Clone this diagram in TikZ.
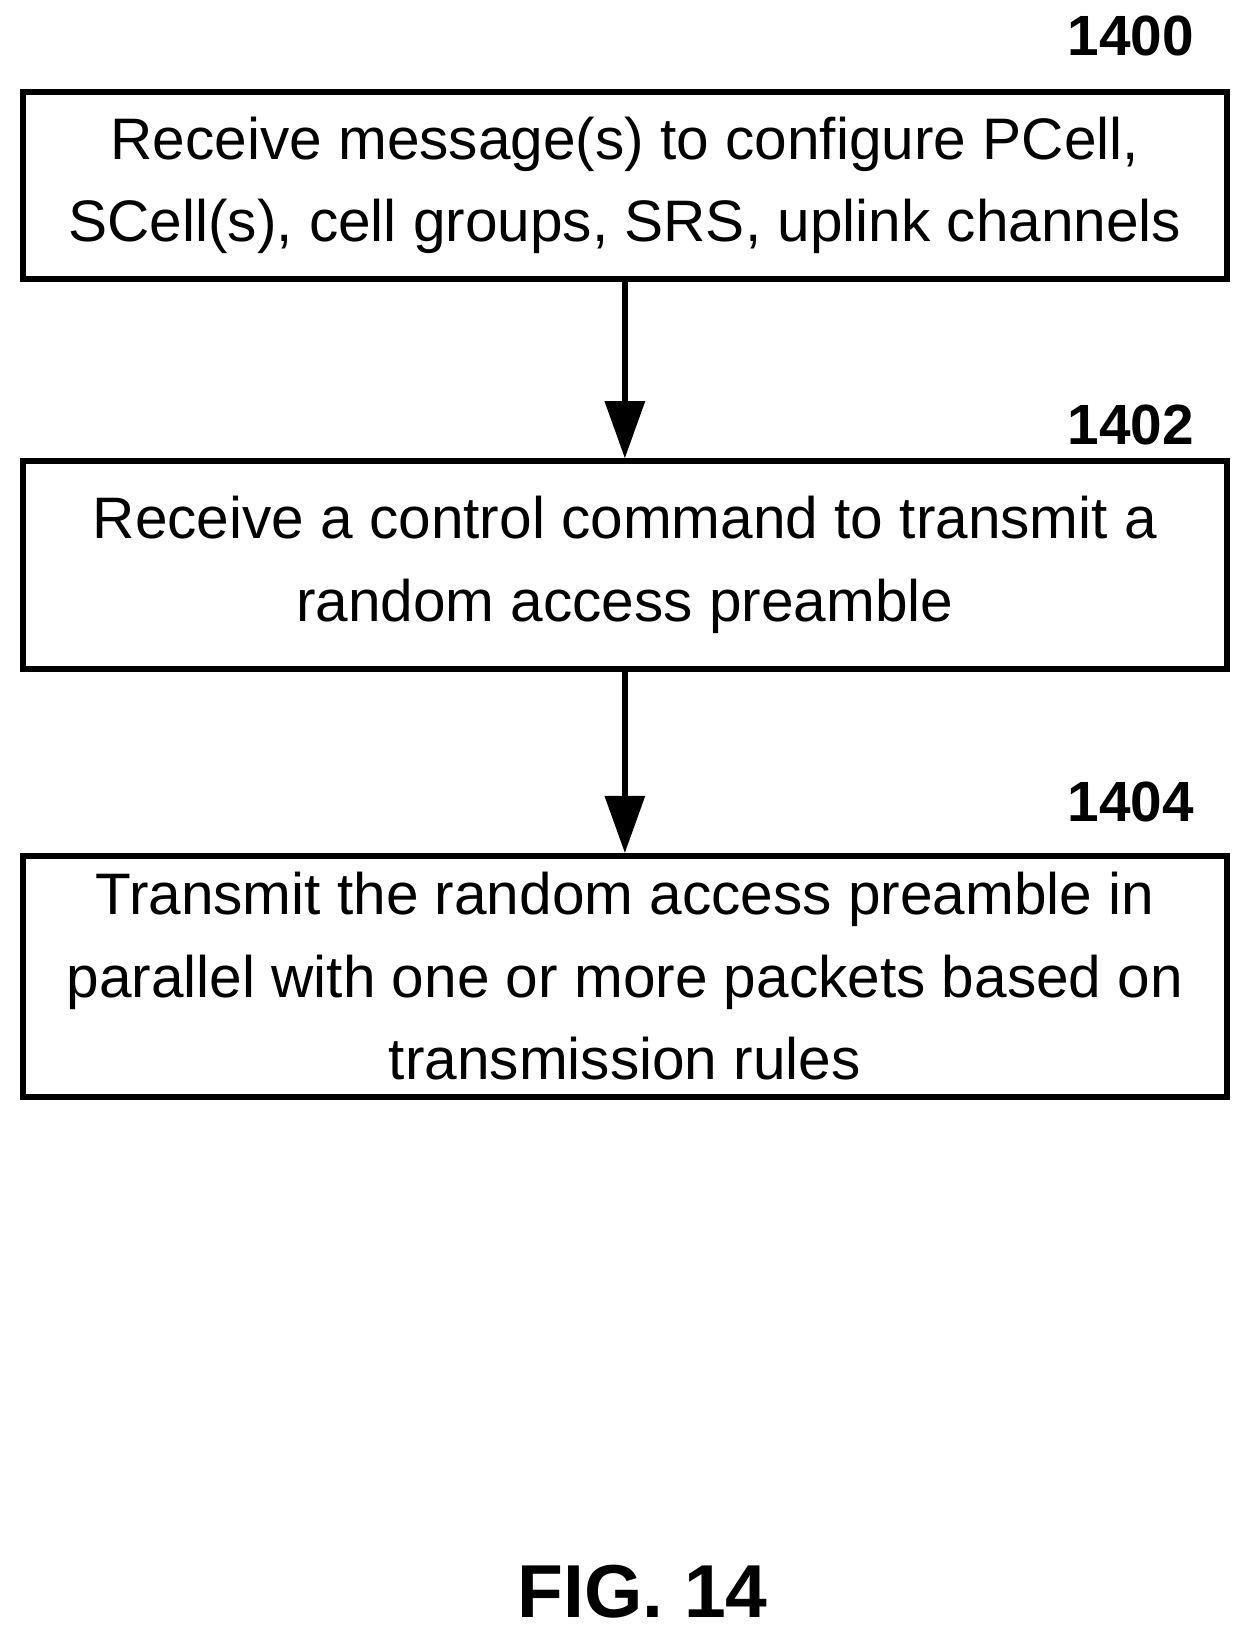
\documentclass[tikz,border=0pt]{standalone}
\usepackage{fontspec}
\setmainfont{Liberation Sans}
\usetikzlibrary{arrows.meta}
\tikzset{
  flowstep/.style={draw=black, line width=3.2pt, minimum width=23.12cm, align=center, font=\fontsize{32}{45}\selectfont},
  ref/.style={font=\fontsize{31}{36}\selectfont\bfseries},
  flow/.style={line width=3.4pt, -{Triangle[length=1.1cm, width=0.75cm]}}
}
\begin{document}
\begin{tikzpicture}[x=0.02cm, y=-0.02cm]
\useasboundingbox (0,0) rectangle (1200,1569);
\node[flowstep, minimum height=3.6cm] (s1400) at (600,178) {Receive message(s) to configure PCell,\\SCell(s), cell groups, SRS, uplink channels};
\node[flowstep, minimum height=3.98cm] (s1402) at (600,542.5) {Receive a control command to transmit a\\random access preamble};
\node[flowstep, minimum height=4.62cm] (s1404) at (600,937.5) {Transmit the random access preamble in\\parallel with one or more packets based on\\transmission rules};

\node[ref] (l1400) at (1086,35) {1400};
\node[ref] (l1402) at (1086,408) {1402};
\node[ref] (l1404) at (1086,770) {1404};

\draw[flow] (s1400) -- (s1402);
\draw[flow] (s1402) -- (s1404);

\node[font=\fontsize{41}{48}\selectfont\bfseries] (fig) at (617,1528) {FIG. 14};
\end{tikzpicture}
\end{document}
